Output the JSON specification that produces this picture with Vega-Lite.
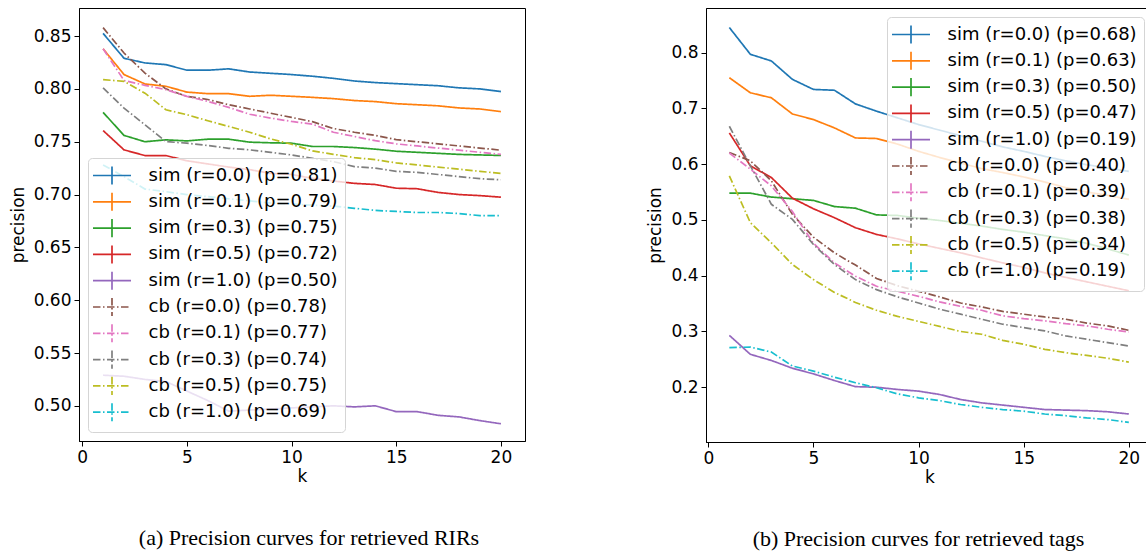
{
"$schema": "https://vega.github.io/schema/vega-lite/v6.json",
"background": "white",
"padding": {"left": 8, "top": 7, "right": 0, "bottom": 0},
"datasets": {
"a": [
{"series":"sim (r=0.0) (p=0.81)","k":1,"precision":0.8526},{"series":"sim (r=0.0) (p=0.81)","k":2,"precision":0.829},{"series":"sim (r=0.0) (p=0.81)","k":3,"precision":0.8246},{"series":"sim (r=0.0) (p=0.81)","k":4,"precision":0.823},{"series":"sim (r=0.0) (p=0.81)","k":5,"precision":0.8177},{"series":"sim (r=0.0) (p=0.81)","k":6,"precision":0.8177},{"series":"sim (r=0.0) (p=0.81)","k":7,"precision":0.819},{"series":"sim (r=0.0) (p=0.81)","k":8,"precision":0.816},{"series":"sim (r=0.0) (p=0.81)","k":9,"precision":0.8148},{"series":"sim (r=0.0) (p=0.81)","k":10,"precision":0.8136},{"series":"sim (r=0.0) (p=0.81)","k":11,"precision":0.812},{"series":"sim (r=0.0) (p=0.81)","k":12,"precision":0.81},{"series":"sim (r=0.0) (p=0.81)","k":13,"precision":0.8075},{"series":"sim (r=0.0) (p=0.81)","k":14,"precision":0.806},{"series":"sim (r=0.0) (p=0.81)","k":15,"precision":0.805},{"series":"sim (r=0.0) (p=0.81)","k":16,"precision":0.804},{"series":"sim (r=0.0) (p=0.81)","k":17,"precision":0.803},{"series":"sim (r=0.0) (p=0.81)","k":18,"precision":0.801},{"series":"sim (r=0.0) (p=0.81)","k":19,"precision":0.8},{"series":"sim (r=0.0) (p=0.81)","k":20,"precision":0.7975},
{"series":"sim (r=0.1) (p=0.79)","k":1,"precision":0.838},{"series":"sim (r=0.1) (p=0.79)","k":2,"precision":0.8136},{"series":"sim (r=0.1) (p=0.79)","k":3,"precision":0.8047},{"series":"sim (r=0.1) (p=0.79)","k":4,"precision":0.8025},{"series":"sim (r=0.1) (p=0.79)","k":5,"precision":0.797},{"series":"sim (r=0.1) (p=0.79)","k":6,"precision":0.7955},{"series":"sim (r=0.1) (p=0.79)","k":7,"precision":0.7955},{"series":"sim (r=0.1) (p=0.79)","k":8,"precision":0.793},{"series":"sim (r=0.1) (p=0.79)","k":9,"precision":0.794},{"series":"sim (r=0.1) (p=0.79)","k":10,"precision":0.793},{"series":"sim (r=0.1) (p=0.79)","k":11,"precision":0.792},{"series":"sim (r=0.1) (p=0.79)","k":12,"precision":0.7908},{"series":"sim (r=0.1) (p=0.79)","k":13,"precision":0.789},{"series":"sim (r=0.1) (p=0.79)","k":14,"precision":0.788},{"series":"sim (r=0.1) (p=0.79)","k":15,"precision":0.786},{"series":"sim (r=0.1) (p=0.79)","k":16,"precision":0.785},{"series":"sim (r=0.1) (p=0.79)","k":17,"precision":0.784},{"series":"sim (r=0.1) (p=0.79)","k":18,"precision":0.782},{"series":"sim (r=0.1) (p=0.79)","k":19,"precision":0.781},{"series":"sim (r=0.1) (p=0.79)","k":20,"precision":0.7785},
{"series":"sim (r=0.3) (p=0.75)","k":1,"precision":0.7778},{"series":"sim (r=0.3) (p=0.75)","k":2,"precision":0.756},{"series":"sim (r=0.3) (p=0.75)","k":3,"precision":0.75},{"series":"sim (r=0.3) (p=0.75)","k":4,"precision":0.7518},{"series":"sim (r=0.3) (p=0.75)","k":5,"precision":0.7508},{"series":"sim (r=0.3) (p=0.75)","k":6,"precision":0.7524},{"series":"sim (r=0.3) (p=0.75)","k":7,"precision":0.7524},{"series":"sim (r=0.3) (p=0.75)","k":8,"precision":0.7496},{"series":"sim (r=0.3) (p=0.75)","k":9,"precision":0.749},{"series":"sim (r=0.3) (p=0.75)","k":10,"precision":0.7486},{"series":"sim (r=0.3) (p=0.75)","k":11,"precision":0.7455},{"series":"sim (r=0.3) (p=0.75)","k":12,"precision":0.7455},{"series":"sim (r=0.3) (p=0.75)","k":13,"precision":0.7445},{"series":"sim (r=0.3) (p=0.75)","k":14,"precision":0.743},{"series":"sim (r=0.3) (p=0.75)","k":15,"precision":0.741},{"series":"sim (r=0.3) (p=0.75)","k":16,"precision":0.74},{"series":"sim (r=0.3) (p=0.75)","k":17,"precision":0.739},{"series":"sim (r=0.3) (p=0.75)","k":18,"precision":0.738},{"series":"sim (r=0.3) (p=0.75)","k":19,"precision":0.7375},{"series":"sim (r=0.3) (p=0.75)","k":20,"precision":0.737},
{"series":"sim (r=0.5) (p=0.72)","k":1,"precision":0.7606},{"series":"sim (r=0.5) (p=0.72)","k":2,"precision":0.7423},{"series":"sim (r=0.5) (p=0.72)","k":3,"precision":0.7369},{"series":"sim (r=0.5) (p=0.72)","k":4,"precision":0.7369},{"series":"sim (r=0.5) (p=0.72)","k":5,"precision":0.732},{"series":"sim (r=0.5) (p=0.72)","k":6,"precision":0.729},{"series":"sim (r=0.5) (p=0.72)","k":7,"precision":0.726},{"series":"sim (r=0.5) (p=0.72)","k":8,"precision":0.7236},{"series":"sim (r=0.5) (p=0.72)","k":9,"precision":0.72},{"series":"sim (r=0.5) (p=0.72)","k":10,"precision":0.719},{"series":"sim (r=0.5) (p=0.72)","k":11,"precision":0.7153},{"series":"sim (r=0.5) (p=0.72)","k":12,"precision":0.7128},{"series":"sim (r=0.5) (p=0.72)","k":13,"precision":0.7106},{"series":"sim (r=0.5) (p=0.72)","k":14,"precision":0.7095},{"series":"sim (r=0.5) (p=0.72)","k":15,"precision":0.706},{"series":"sim (r=0.5) (p=0.72)","k":16,"precision":0.7055},{"series":"sim (r=0.5) (p=0.72)","k":17,"precision":0.702},{"series":"sim (r=0.5) (p=0.72)","k":18,"precision":0.7},{"series":"sim (r=0.5) (p=0.72)","k":19,"precision":0.699},{"series":"sim (r=0.5) (p=0.72)","k":20,"precision":0.6975},
{"series":"sim (r=1.0) (p=0.50)","k":1,"precision":0.529},{"series":"sim (r=1.0) (p=0.50)","k":2,"precision":0.528},{"series":"sim (r=1.0) (p=0.50)","k":3,"precision":0.525},{"series":"sim (r=1.0) (p=0.50)","k":4,"precision":0.523},{"series":"sim (r=1.0) (p=0.50)","k":5,"precision":0.514},{"series":"sim (r=1.0) (p=0.50)","k":6,"precision":0.505},{"series":"sim (r=1.0) (p=0.50)","k":7,"precision":0.495},{"series":"sim (r=1.0) (p=0.50)","k":8,"precision":0.496},{"series":"sim (r=1.0) (p=0.50)","k":9,"precision":0.497},{"series":"sim (r=1.0) (p=0.50)","k":10,"precision":0.498},{"series":"sim (r=1.0) (p=0.50)","k":11,"precision":0.499},{"series":"sim (r=1.0) (p=0.50)","k":12,"precision":0.5},{"series":"sim (r=1.0) (p=0.50)","k":13,"precision":0.499},{"series":"sim (r=1.0) (p=0.50)","k":14,"precision":0.5},{"series":"sim (r=1.0) (p=0.50)","k":15,"precision":0.4945},{"series":"sim (r=1.0) (p=0.50)","k":16,"precision":0.4945},{"series":"sim (r=1.0) (p=0.50)","k":17,"precision":0.491},{"series":"sim (r=1.0) (p=0.50)","k":18,"precision":0.4895},{"series":"sim (r=1.0) (p=0.50)","k":19,"precision":0.486},{"series":"sim (r=1.0) (p=0.50)","k":20,"precision":0.483},
{"series":"cb (r=0.0) (p=0.78)","k":1,"precision":0.858},{"series":"cb (r=0.0) (p=0.78)","k":2,"precision":0.834},{"series":"cb (r=0.0) (p=0.78)","k":3,"precision":0.815},{"series":"cb (r=0.0) (p=0.78)","k":4,"precision":0.8},{"series":"cb (r=0.0) (p=0.78)","k":5,"precision":0.793},{"series":"cb (r=0.0) (p=0.78)","k":6,"precision":0.79},{"series":"cb (r=0.0) (p=0.78)","k":7,"precision":0.785},{"series":"cb (r=0.0) (p=0.78)","k":8,"precision":0.781},{"series":"cb (r=0.0) (p=0.78)","k":9,"precision":0.777},{"series":"cb (r=0.0) (p=0.78)","k":10,"precision":0.773},{"series":"cb (r=0.0) (p=0.78)","k":11,"precision":0.769},{"series":"cb (r=0.0) (p=0.78)","k":12,"precision":0.7625},{"series":"cb (r=0.0) (p=0.78)","k":13,"precision":0.759},{"series":"cb (r=0.0) (p=0.78)","k":14,"precision":0.756},{"series":"cb (r=0.0) (p=0.78)","k":15,"precision":0.752},{"series":"cb (r=0.0) (p=0.78)","k":16,"precision":0.75},{"series":"cb (r=0.0) (p=0.78)","k":17,"precision":0.748},{"series":"cb (r=0.0) (p=0.78)","k":18,"precision":0.746},{"series":"cb (r=0.0) (p=0.78)","k":19,"precision":0.744},{"series":"cb (r=0.0) (p=0.78)","k":20,"precision":0.742},
{"series":"cb (r=0.1) (p=0.77)","k":1,"precision":0.838},{"series":"cb (r=0.1) (p=0.77)","k":2,"precision":0.808},{"series":"cb (r=0.1) (p=0.77)","k":3,"precision":0.8034},{"series":"cb (r=0.1) (p=0.77)","k":4,"precision":0.7993},{"series":"cb (r=0.1) (p=0.77)","k":5,"precision":0.793},{"series":"cb (r=0.1) (p=0.77)","k":6,"precision":0.7882},{"series":"cb (r=0.1) (p=0.77)","k":7,"precision":0.7825},{"series":"cb (r=0.1) (p=0.77)","k":8,"precision":0.776},{"series":"cb (r=0.1) (p=0.77)","k":9,"precision":0.7724},{"series":"cb (r=0.1) (p=0.77)","k":10,"precision":0.7692},{"series":"cb (r=0.1) (p=0.77)","k":11,"precision":0.7667},{"series":"cb (r=0.1) (p=0.77)","k":12,"precision":0.759},{"series":"cb (r=0.1) (p=0.77)","k":13,"precision":0.755},{"series":"cb (r=0.1) (p=0.77)","k":14,"precision":0.751},{"series":"cb (r=0.1) (p=0.77)","k":15,"precision":0.748},{"series":"cb (r=0.1) (p=0.77)","k":16,"precision":0.746},{"series":"cb (r=0.1) (p=0.77)","k":17,"precision":0.744},{"series":"cb (r=0.1) (p=0.77)","k":18,"precision":0.742},{"series":"cb (r=0.1) (p=0.77)","k":19,"precision":0.74},{"series":"cb (r=0.1) (p=0.77)","k":20,"precision":0.738},
{"series":"cb (r=0.3) (p=0.74)","k":1,"precision":0.8009},{"series":"cb (r=0.3) (p=0.74)","k":2,"precision":0.7818},{"series":"cb (r=0.3) (p=0.74)","k":3,"precision":0.766},{"series":"cb (r=0.3) (p=0.74)","k":4,"precision":0.7502},{"series":"cb (r=0.3) (p=0.74)","k":5,"precision":0.7486},{"series":"cb (r=0.3) (p=0.74)","k":6,"precision":0.7464},{"series":"cb (r=0.3) (p=0.74)","k":7,"precision":0.7438},{"series":"cb (r=0.3) (p=0.74)","k":8,"precision":0.7423},{"series":"cb (r=0.3) (p=0.74)","k":9,"precision":0.74},{"series":"cb (r=0.3) (p=0.74)","k":10,"precision":0.7375},{"series":"cb (r=0.3) (p=0.74)","k":11,"precision":0.7343},{"series":"cb (r=0.3) (p=0.74)","k":12,"precision":0.7312},{"series":"cb (r=0.3) (p=0.74)","k":13,"precision":0.7264},{"series":"cb (r=0.3) (p=0.74)","k":14,"precision":0.725},{"series":"cb (r=0.3) (p=0.74)","k":15,"precision":0.722},{"series":"cb (r=0.3) (p=0.74)","k":16,"precision":0.721},{"series":"cb (r=0.3) (p=0.74)","k":17,"precision":0.719},{"series":"cb (r=0.3) (p=0.74)","k":18,"precision":0.717},{"series":"cb (r=0.3) (p=0.74)","k":19,"precision":0.715},{"series":"cb (r=0.3) (p=0.74)","k":20,"precision":0.714},
{"series":"cb (r=0.5) (p=0.75)","k":1,"precision":0.8088},{"series":"cb (r=0.5) (p=0.75)","k":2,"precision":0.8072},{"series":"cb (r=0.5) (p=0.75)","k":3,"precision":0.796},{"series":"cb (r=0.5) (p=0.75)","k":4,"precision":0.7803},{"series":"cb (r=0.5) (p=0.75)","k":5,"precision":0.7756},{"series":"cb (r=0.5) (p=0.75)","k":6,"precision":0.7699},{"series":"cb (r=0.5) (p=0.75)","k":7,"precision":0.7645},{"series":"cb (r=0.5) (p=0.75)","k":8,"precision":0.759},{"series":"cb (r=0.5) (p=0.75)","k":9,"precision":0.7527},{"series":"cb (r=0.5) (p=0.75)","k":10,"precision":0.7476},{"series":"cb (r=0.5) (p=0.75)","k":11,"precision":0.7413},{"series":"cb (r=0.5) (p=0.75)","k":12,"precision":0.7381},{"series":"cb (r=0.5) (p=0.75)","k":13,"precision":0.735},{"series":"cb (r=0.5) (p=0.75)","k":14,"precision":0.733},{"series":"cb (r=0.5) (p=0.75)","k":15,"precision":0.73},{"series":"cb (r=0.5) (p=0.75)","k":16,"precision":0.728},{"series":"cb (r=0.5) (p=0.75)","k":17,"precision":0.726},{"series":"cb (r=0.5) (p=0.75)","k":18,"precision":0.724},{"series":"cb (r=0.5) (p=0.75)","k":19,"precision":0.722},{"series":"cb (r=0.5) (p=0.75)","k":20,"precision":0.72},
{"series":"cb (r=1.0) (p=0.69)","k":1,"precision":0.728},{"series":"cb (r=1.0) (p=0.69)","k":2,"precision":0.717},{"series":"cb (r=1.0) (p=0.69)","k":3,"precision":0.7052},{"series":"cb (r=1.0) (p=0.69)","k":4,"precision":0.7027},{"series":"cb (r=1.0) (p=0.69)","k":5,"precision":0.7},{"series":"cb (r=1.0) (p=0.69)","k":6,"precision":0.698},{"series":"cb (r=1.0) (p=0.69)","k":7,"precision":0.696},{"series":"cb (r=1.0) (p=0.69)","k":8,"precision":0.694},{"series":"cb (r=1.0) (p=0.69)","k":9,"precision":0.692},{"series":"cb (r=1.0) (p=0.69)","k":10,"precision":0.691},{"series":"cb (r=1.0) (p=0.69)","k":11,"precision":0.69},{"series":"cb (r=1.0) (p=0.69)","k":12,"precision":0.689},{"series":"cb (r=1.0) (p=0.69)","k":13,"precision":0.687},{"series":"cb (r=1.0) (p=0.69)","k":14,"precision":0.685},{"series":"cb (r=1.0) (p=0.69)","k":15,"precision":0.684},{"series":"cb (r=1.0) (p=0.69)","k":16,"precision":0.683},{"series":"cb (r=1.0) (p=0.69)","k":17,"precision":0.683},{"series":"cb (r=1.0) (p=0.69)","k":18,"precision":0.682},{"series":"cb (r=1.0) (p=0.69)","k":19,"precision":0.68},{"series":"cb (r=1.0) (p=0.69)","k":20,"precision":0.68}
],
"b": [
{"series":"sim (r=0.0) (p=0.68)","k":1,"precision":0.845},{"series":"sim (r=0.0) (p=0.68)","k":2,"precision":0.797},{"series":"sim (r=0.0) (p=0.68)","k":3,"precision":0.785},{"series":"sim (r=0.0) (p=0.68)","k":4,"precision":0.752},{"series":"sim (r=0.0) (p=0.68)","k":5,"precision":0.734},{"series":"sim (r=0.0) (p=0.68)","k":6,"precision":0.7325},{"series":"sim (r=0.0) (p=0.68)","k":7,"precision":0.708},{"series":"sim (r=0.0) (p=0.68)","k":8,"precision":0.695},{"series":"sim (r=0.0) (p=0.68)","k":9,"precision":0.683},{"series":"sim (r=0.0) (p=0.68)","k":10,"precision":0.671},{"series":"sim (r=0.0) (p=0.68)","k":11,"precision":0.661},{"series":"sim (r=0.0) (p=0.68)","k":12,"precision":0.651},{"series":"sim (r=0.0) (p=0.68)","k":13,"precision":0.641},{"series":"sim (r=0.0) (p=0.68)","k":14,"precision":0.631},{"series":"sim (r=0.0) (p=0.68)","k":15,"precision":0.623},{"series":"sim (r=0.0) (p=0.68)","k":16,"precision":0.614},{"series":"sim (r=0.0) (p=0.68)","k":17,"precision":0.606},{"series":"sim (r=0.0) (p=0.68)","k":18,"precision":0.599},{"series":"sim (r=0.0) (p=0.68)","k":19,"precision":0.593},{"series":"sim (r=0.0) (p=0.68)","k":20,"precision":0.587},
{"series":"sim (r=0.1) (p=0.63)","k":1,"precision":0.755},{"series":"sim (r=0.1) (p=0.63)","k":2,"precision":0.728},{"series":"sim (r=0.1) (p=0.63)","k":3,"precision":0.719},{"series":"sim (r=0.1) (p=0.63)","k":4,"precision":0.69},{"series":"sim (r=0.1) (p=0.63)","k":5,"precision":0.68},{"series":"sim (r=0.1) (p=0.63)","k":6,"precision":0.665},{"series":"sim (r=0.1) (p=0.63)","k":7,"precision":0.647},{"series":"sim (r=0.1) (p=0.63)","k":8,"precision":0.646},{"series":"sim (r=0.1) (p=0.63)","k":9,"precision":0.636},{"series":"sim (r=0.1) (p=0.63)","k":10,"precision":0.623},{"series":"sim (r=0.1) (p=0.63)","k":11,"precision":0.612},{"series":"sim (r=0.1) (p=0.63)","k":12,"precision":0.602},{"series":"sim (r=0.1) (p=0.63)","k":13,"precision":0.592},{"series":"sim (r=0.1) (p=0.63)","k":14,"precision":0.585},{"series":"sim (r=0.1) (p=0.63)","k":15,"precision":0.577},{"series":"sim (r=0.1) (p=0.63)","k":16,"precision":0.568},{"series":"sim (r=0.1) (p=0.63)","k":17,"precision":0.558},{"series":"sim (r=0.1) (p=0.63)","k":18,"precision":0.55},{"series":"sim (r=0.1) (p=0.63)","k":19,"precision":0.544},{"series":"sim (r=0.1) (p=0.63)","k":20,"precision":0.537},
{"series":"sim (r=0.3) (p=0.50)","k":1,"precision":0.548},{"series":"sim (r=0.3) (p=0.50)","k":2,"precision":0.548},{"series":"sim (r=0.3) (p=0.50)","k":3,"precision":0.541},{"series":"sim (r=0.3) (p=0.50)","k":4,"precision":0.538},{"series":"sim (r=0.3) (p=0.50)","k":5,"precision":0.535},{"series":"sim (r=0.3) (p=0.50)","k":6,"precision":0.524},{"series":"sim (r=0.3) (p=0.50)","k":7,"precision":0.521},{"series":"sim (r=0.3) (p=0.50)","k":8,"precision":0.509},{"series":"sim (r=0.3) (p=0.50)","k":9,"precision":0.508},{"series":"sim (r=0.3) (p=0.50)","k":10,"precision":0.503},{"series":"sim (r=0.3) (p=0.50)","k":11,"precision":0.499},{"series":"sim (r=0.3) (p=0.50)","k":12,"precision":0.494},{"series":"sim (r=0.3) (p=0.50)","k":13,"precision":0.489},{"series":"sim (r=0.3) (p=0.50)","k":14,"precision":0.483},{"series":"sim (r=0.3) (p=0.50)","k":15,"precision":0.478},{"series":"sim (r=0.3) (p=0.50)","k":16,"precision":0.472},{"series":"sim (r=0.3) (p=0.50)","k":17,"precision":0.466},{"series":"sim (r=0.3) (p=0.50)","k":18,"precision":0.458},{"series":"sim (r=0.3) (p=0.50)","k":19,"precision":0.448},{"series":"sim (r=0.3) (p=0.50)","k":20,"precision":0.437},
{"series":"sim (r=0.5) (p=0.47)","k":1,"precision":0.656},{"series":"sim (r=0.5) (p=0.47)","k":2,"precision":0.597},{"series":"sim (r=0.5) (p=0.47)","k":3,"precision":0.576},{"series":"sim (r=0.5) (p=0.47)","k":4,"precision":0.539},{"series":"sim (r=0.5) (p=0.47)","k":5,"precision":0.52},{"series":"sim (r=0.5) (p=0.47)","k":6,"precision":0.504},{"series":"sim (r=0.5) (p=0.47)","k":7,"precision":0.486},{"series":"sim (r=0.5) (p=0.47)","k":8,"precision":0.474},{"series":"sim (r=0.5) (p=0.47)","k":9,"precision":0.466},{"series":"sim (r=0.5) (p=0.47)","k":10,"precision":0.457},{"series":"sim (r=0.5) (p=0.47)","k":11,"precision":0.449},{"series":"sim (r=0.5) (p=0.47)","k":12,"precision":0.441},{"series":"sim (r=0.5) (p=0.47)","k":13,"precision":0.432},{"series":"sim (r=0.5) (p=0.47)","k":14,"precision":0.423},{"series":"sim (r=0.5) (p=0.47)","k":15,"precision":0.415},{"series":"sim (r=0.5) (p=0.47)","k":16,"precision":0.405},{"series":"sim (r=0.5) (p=0.47)","k":17,"precision":0.397},{"series":"sim (r=0.5) (p=0.47)","k":18,"precision":0.389},{"series":"sim (r=0.5) (p=0.47)","k":19,"precision":0.381},{"series":"sim (r=0.5) (p=0.47)","k":20,"precision":0.373},
{"series":"sim (r=1.0) (p=0.19)","k":1,"precision":0.293},{"series":"sim (r=1.0) (p=0.19)","k":2,"precision":0.259},{"series":"sim (r=1.0) (p=0.19)","k":3,"precision":0.248},{"series":"sim (r=1.0) (p=0.19)","k":4,"precision":0.234},{"series":"sim (r=1.0) (p=0.19)","k":5,"precision":0.224},{"series":"sim (r=1.0) (p=0.19)","k":6,"precision":0.212},{"series":"sim (r=1.0) (p=0.19)","k":7,"precision":0.201},{"series":"sim (r=1.0) (p=0.19)","k":8,"precision":0.2},{"series":"sim (r=1.0) (p=0.19)","k":9,"precision":0.196},{"series":"sim (r=1.0) (p=0.19)","k":10,"precision":0.193},{"series":"sim (r=1.0) (p=0.19)","k":11,"precision":0.187},{"series":"sim (r=1.0) (p=0.19)","k":12,"precision":0.178},{"series":"sim (r=1.0) (p=0.19)","k":13,"precision":0.172},{"series":"sim (r=1.0) (p=0.19)","k":14,"precision":0.168},{"series":"sim (r=1.0) (p=0.19)","k":15,"precision":0.164},{"series":"sim (r=1.0) (p=0.19)","k":16,"precision":0.16},{"series":"sim (r=1.0) (p=0.19)","k":17,"precision":0.159},{"series":"sim (r=1.0) (p=0.19)","k":18,"precision":0.158},{"series":"sim (r=1.0) (p=0.19)","k":19,"precision":0.156},{"series":"sim (r=1.0) (p=0.19)","k":20,"precision":0.152},
{"series":"cb (r=0.0) (p=0.40)","k":1,"precision":0.621},{"series":"cb (r=0.0) (p=0.40)","k":2,"precision":0.606},{"series":"cb (r=0.0) (p=0.40)","k":3,"precision":0.57},{"series":"cb (r=0.0) (p=0.40)","k":4,"precision":0.51},{"series":"cb (r=0.0) (p=0.40)","k":5,"precision":0.469},{"series":"cb (r=0.0) (p=0.40)","k":6,"precision":0.441},{"series":"cb (r=0.0) (p=0.40)","k":7,"precision":0.419},{"series":"cb (r=0.0) (p=0.40)","k":8,"precision":0.395},{"series":"cb (r=0.0) (p=0.40)","k":9,"precision":0.382},{"series":"cb (r=0.0) (p=0.40)","k":10,"precision":0.372},{"series":"cb (r=0.0) (p=0.40)","k":11,"precision":0.362},{"series":"cb (r=0.0) (p=0.40)","k":12,"precision":0.351},{"series":"cb (r=0.0) (p=0.40)","k":13,"precision":0.344},{"series":"cb (r=0.0) (p=0.40)","k":14,"precision":0.336},{"series":"cb (r=0.0) (p=0.40)","k":15,"precision":0.331},{"series":"cb (r=0.0) (p=0.40)","k":16,"precision":0.326},{"series":"cb (r=0.0) (p=0.40)","k":17,"precision":0.322},{"series":"cb (r=0.0) (p=0.40)","k":18,"precision":0.315},{"series":"cb (r=0.0) (p=0.40)","k":19,"precision":0.31},{"series":"cb (r=0.0) (p=0.40)","k":20,"precision":0.302},
{"series":"cb (r=0.1) (p=0.39)","k":1,"precision":0.62},{"series":"cb (r=0.1) (p=0.39)","k":2,"precision":0.591},{"series":"cb (r=0.1) (p=0.39)","k":3,"precision":0.561},{"series":"cb (r=0.1) (p=0.39)","k":4,"precision":0.515},{"series":"cb (r=0.1) (p=0.39)","k":5,"precision":0.458},{"series":"cb (r=0.1) (p=0.39)","k":6,"precision":0.423},{"series":"cb (r=0.1) (p=0.39)","k":7,"precision":0.399},{"series":"cb (r=0.1) (p=0.39)","k":8,"precision":0.381},{"series":"cb (r=0.1) (p=0.39)","k":9,"precision":0.372},{"series":"cb (r=0.1) (p=0.39)","k":10,"precision":0.363},{"series":"cb (r=0.1) (p=0.39)","k":11,"precision":0.353},{"series":"cb (r=0.1) (p=0.39)","k":12,"precision":0.345},{"series":"cb (r=0.1) (p=0.39)","k":13,"precision":0.338},{"series":"cb (r=0.1) (p=0.39)","k":14,"precision":0.328},{"series":"cb (r=0.1) (p=0.39)","k":15,"precision":0.323},{"series":"cb (r=0.1) (p=0.39)","k":16,"precision":0.319},{"series":"cb (r=0.1) (p=0.39)","k":17,"precision":0.314},{"series":"cb (r=0.1) (p=0.39)","k":18,"precision":0.31},{"series":"cb (r=0.1) (p=0.39)","k":19,"precision":0.304},{"series":"cb (r=0.1) (p=0.39)","k":20,"precision":0.299},
{"series":"cb (r=0.3) (p=0.38)","k":1,"precision":0.668},{"series":"cb (r=0.3) (p=0.38)","k":2,"precision":0.597},{"series":"cb (r=0.3) (p=0.38)","k":3,"precision":0.528},{"series":"cb (r=0.3) (p=0.38)","k":4,"precision":0.501},{"series":"cb (r=0.3) (p=0.38)","k":5,"precision":0.456},{"series":"cb (r=0.3) (p=0.38)","k":6,"precision":0.42},{"series":"cb (r=0.3) (p=0.38)","k":7,"precision":0.393},{"series":"cb (r=0.3) (p=0.38)","k":8,"precision":0.375},{"series":"cb (r=0.3) (p=0.38)","k":9,"precision":0.362},{"series":"cb (r=0.3) (p=0.38)","k":10,"precision":0.351},{"series":"cb (r=0.3) (p=0.38)","k":11,"precision":0.34},{"series":"cb (r=0.3) (p=0.38)","k":12,"precision":0.331},{"series":"cb (r=0.3) (p=0.38)","k":13,"precision":0.322},{"series":"cb (r=0.3) (p=0.38)","k":14,"precision":0.313},{"series":"cb (r=0.3) (p=0.38)","k":15,"precision":0.307},{"series":"cb (r=0.3) (p=0.38)","k":16,"precision":0.301},{"series":"cb (r=0.3) (p=0.38)","k":17,"precision":0.292},{"series":"cb (r=0.3) (p=0.38)","k":18,"precision":0.286},{"series":"cb (r=0.3) (p=0.38)","k":19,"precision":0.28},{"series":"cb (r=0.3) (p=0.38)","k":20,"precision":0.274},
{"series":"cb (r=0.5) (p=0.34)","k":1,"precision":0.579},{"series":"cb (r=0.5) (p=0.34)","k":2,"precision":0.495},{"series":"cb (r=0.5) (p=0.34)","k":3,"precision":0.459},{"series":"cb (r=0.5) (p=0.34)","k":4,"precision":0.42},{"series":"cb (r=0.5) (p=0.34)","k":5,"precision":0.393},{"series":"cb (r=0.5) (p=0.34)","k":6,"precision":0.37},{"series":"cb (r=0.5) (p=0.34)","k":7,"precision":0.352},{"series":"cb (r=0.5) (p=0.34)","k":8,"precision":0.338},{"series":"cb (r=0.5) (p=0.34)","k":9,"precision":0.327},{"series":"cb (r=0.5) (p=0.34)","k":10,"precision":0.318},{"series":"cb (r=0.5) (p=0.34)","k":11,"precision":0.309},{"series":"cb (r=0.5) (p=0.34)","k":12,"precision":0.3},{"series":"cb (r=0.5) (p=0.34)","k":13,"precision":0.295},{"series":"cb (r=0.5) (p=0.34)","k":14,"precision":0.284},{"series":"cb (r=0.5) (p=0.34)","k":15,"precision":0.277},{"series":"cb (r=0.5) (p=0.34)","k":16,"precision":0.268},{"series":"cb (r=0.5) (p=0.34)","k":17,"precision":0.262},{"series":"cb (r=0.5) (p=0.34)","k":18,"precision":0.257},{"series":"cb (r=0.5) (p=0.34)","k":19,"precision":0.252},{"series":"cb (r=0.5) (p=0.34)","k":20,"precision":0.245},
{"series":"cb (r=1.0) (p=0.19)","k":1,"precision":0.271},{"series":"cb (r=1.0) (p=0.19)","k":2,"precision":0.272},{"series":"cb (r=1.0) (p=0.19)","k":3,"precision":0.263},{"series":"cb (r=1.0) (p=0.19)","k":4,"precision":0.238},{"series":"cb (r=1.0) (p=0.19)","k":5,"precision":0.229},{"series":"cb (r=1.0) (p=0.19)","k":6,"precision":0.218},{"series":"cb (r=1.0) (p=0.19)","k":7,"precision":0.208},{"series":"cb (r=1.0) (p=0.19)","k":8,"precision":0.199},{"series":"cb (r=1.0) (p=0.19)","k":9,"precision":0.188},{"series":"cb (r=1.0) (p=0.19)","k":10,"precision":0.181},{"series":"cb (r=1.0) (p=0.19)","k":11,"precision":0.176},{"series":"cb (r=1.0) (p=0.19)","k":12,"precision":0.169},{"series":"cb (r=1.0) (p=0.19)","k":13,"precision":0.164},{"series":"cb (r=1.0) (p=0.19)","k":14,"precision":0.16},{"series":"cb (r=1.0) (p=0.19)","k":15,"precision":0.157},{"series":"cb (r=1.0) (p=0.19)","k":16,"precision":0.152},{"series":"cb (r=1.0) (p=0.19)","k":17,"precision":0.149},{"series":"cb (r=1.0) (p=0.19)","k":18,"precision":0.145},{"series":"cb (r=1.0) (p=0.19)","k":19,"precision":0.142},{"series":"cb (r=1.0) (p=0.19)","k":20,"precision":0.137}
]
},
"hconcat": [
{
"width": 446, "height": 433,
"data": {"name": "a"},
"title": {"text": "(a) Precision curves for retrieved RIRs", "orient": "bottom", "anchor": "middle", "offset": 44, "dx": 7},
"mark": {"type": "line", "strokeWidth": 1.7},
"encoding": {
"x": {"field": "k", "type": "quantitative", "scale": {"domain": [-0.15, 21.15], "nice": false, "zero": false}, "axis": {"values": [0, 5, 10, 15, 20], "format": "d", "title": "k"}},
"y": {"field": "precision", "type": "quantitative", "scale": {"domain": [0.4667, 0.8766], "nice": false, "zero": false}, "axis": {"values": [0.5, 0.55, 0.6, 0.65, 0.7, 0.75, 0.8, 0.85], "format": ".2f", "title": "precision"}},
"color": {"field": "series", "type": "nominal", "scale": {"domain": ["sim (r=0.0) (p=0.81)", "sim (r=0.1) (p=0.79)", "sim (r=0.3) (p=0.75)", "sim (r=0.5) (p=0.72)", "sim (r=1.0) (p=0.50)", "cb (r=0.0) (p=0.78)", "cb (r=0.1) (p=0.77)", "cb (r=0.3) (p=0.74)", "cb (r=0.5) (p=0.75)", "cb (r=1.0) (p=0.69)"], "range": ["#1f77b4", "#ff7f0e", "#2ca02c", "#d62728", "#9467bd", "#8c564b", "#e377c2", "#7f7f7f", "#bcbd22", "#17becf"]}, "legend": {"title": null, "orient": "bottom-left", "offset": 9}},
"strokeDash": {"field": "series", "type": "nominal", "scale": {"domain": ["sim (r=0.0) (p=0.81)", "sim (r=0.1) (p=0.79)", "sim (r=0.3) (p=0.75)", "sim (r=0.5) (p=0.72)", "sim (r=1.0) (p=0.50)", "cb (r=0.0) (p=0.78)", "cb (r=0.1) (p=0.77)", "cb (r=0.3) (p=0.74)", "cb (r=0.5) (p=0.75)", "cb (r=1.0) (p=0.69)"], "range": [[1, 0], [1, 0], [1, 0], [1, 0], [1, 0], [7.5, 2.5, 1.5, 2.5], [7.5, 2.5, 1.5, 2.5], [7.5, 2.5, 1.5, 2.5], [7.5, 2.5, 1.5, 2.5], [7.5, 2.5, 1.5, 2.5]]}, "legend": {"title": null, "orient": "bottom-left", "offset": 9}}
}
},
{
"width": 447, "height": 434,
"data": {"name": "b"},
"title": {"text": "(b) Precision curves for retrieved tags", "orient": "bottom", "anchor": "middle", "offset": 44, "dx": -11},
"mark": {"type": "line", "strokeWidth": 1.7},
"encoding": {
"x": {"field": "k", "type": "quantitative", "scale": {"domain": [-0.11, 21.15], "nice": false, "zero": false}, "axis": {"values": [0, 5, 10, 15, 20], "format": "d", "title": "k"}},
"y": {"field": "precision", "type": "quantitative", "scale": {"domain": [0.1018, 0.88], "nice": false, "zero": false}, "axis": {"values": [0.2, 0.3, 0.4, 0.5, 0.6, 0.7, 0.8], "format": ".1f", "title": "precision"}},
"color": {"field": "series", "type": "nominal", "scale": {"domain": ["sim (r=0.0) (p=0.68)", "sim (r=0.1) (p=0.63)", "sim (r=0.3) (p=0.50)", "sim (r=0.5) (p=0.47)", "sim (r=1.0) (p=0.19)", "cb (r=0.0) (p=0.40)", "cb (r=0.1) (p=0.39)", "cb (r=0.3) (p=0.38)", "cb (r=0.5) (p=0.34)", "cb (r=1.0) (p=0.19)"], "range": ["#1f77b4", "#ff7f0e", "#2ca02c", "#d62728", "#9467bd", "#8c564b", "#e377c2", "#7f7f7f", "#bcbd22", "#17becf"]}, "legend": {"title": null, "orient": "top-right", "offset": 9}},
"strokeDash": {"field": "series", "type": "nominal", "scale": {"domain": ["sim (r=0.0) (p=0.68)", "sim (r=0.1) (p=0.63)", "sim (r=0.3) (p=0.50)", "sim (r=0.5) (p=0.47)", "sim (r=1.0) (p=0.19)", "cb (r=0.0) (p=0.40)", "cb (r=0.1) (p=0.39)", "cb (r=0.3) (p=0.38)", "cb (r=0.5) (p=0.34)", "cb (r=1.0) (p=0.19)"], "range": [[1, 0], [1, 0], [1, 0], [1, 0], [1, 0], [7.5, 2.5, 1.5, 2.5], [7.5, 2.5, 1.5, 2.5], [7.5, 2.5, 1.5, 2.5], [7.5, 2.5, 1.5, 2.5], [7.5, 2.5, 1.5, 2.5]]}, "legend": {"title": null, "orient": "top-right", "offset": 9}}
}
}
],
"spacing": 120,
"resolve": {"scale": {"x": "independent", "y": "independent", "color": "independent", "strokeDash": "independent"}, "legend": {"color": "independent", "strokeDash": "independent"}},
"config": {
"font": "DejaVu Sans",
"view": {"stroke": "black", "strokeWidth": 1},
"axis": {"domainColor": "black", "tickColor": "black", "labelColor": "black", "titleColor": "black", "labelFont": "DejaVu Sans", "titleFont": "DejaVu Sans", "labelFontSize": 17, "titleFontSize": 17, "titleFontWeight": "normal", "grid": false, "tickSize": 5, "labelPadding": 3, "domainWidth": 1, "tickWidth": 1},
"axisY": {"titlePadding": 6},
"axisX": {"titlePadding": 3},
"legend": {"labelFont": "DejaVu Sans", "labelFontSize": 18, "labelColor": "black", "labelLimit": 400, "fillColor": "rgba(255,255,255,0.8)", "strokeColor": "#d5d5d5", "cornerRadius": 4, "padding": 7, "symbolType": "M-2,0H2M0,-0.95V0.95", "symbolSize": 361, "symbolOffset": 6.5, "symbolStrokeWidth": 1.7, "rowPadding": 1.3, "labelOffset": 26, "symbolFillColor": "transparent"},
"title": {"font": "Liberation Serif", "fontSize": 22, "fontWeight": "normal", "color": "black"}
}
}
